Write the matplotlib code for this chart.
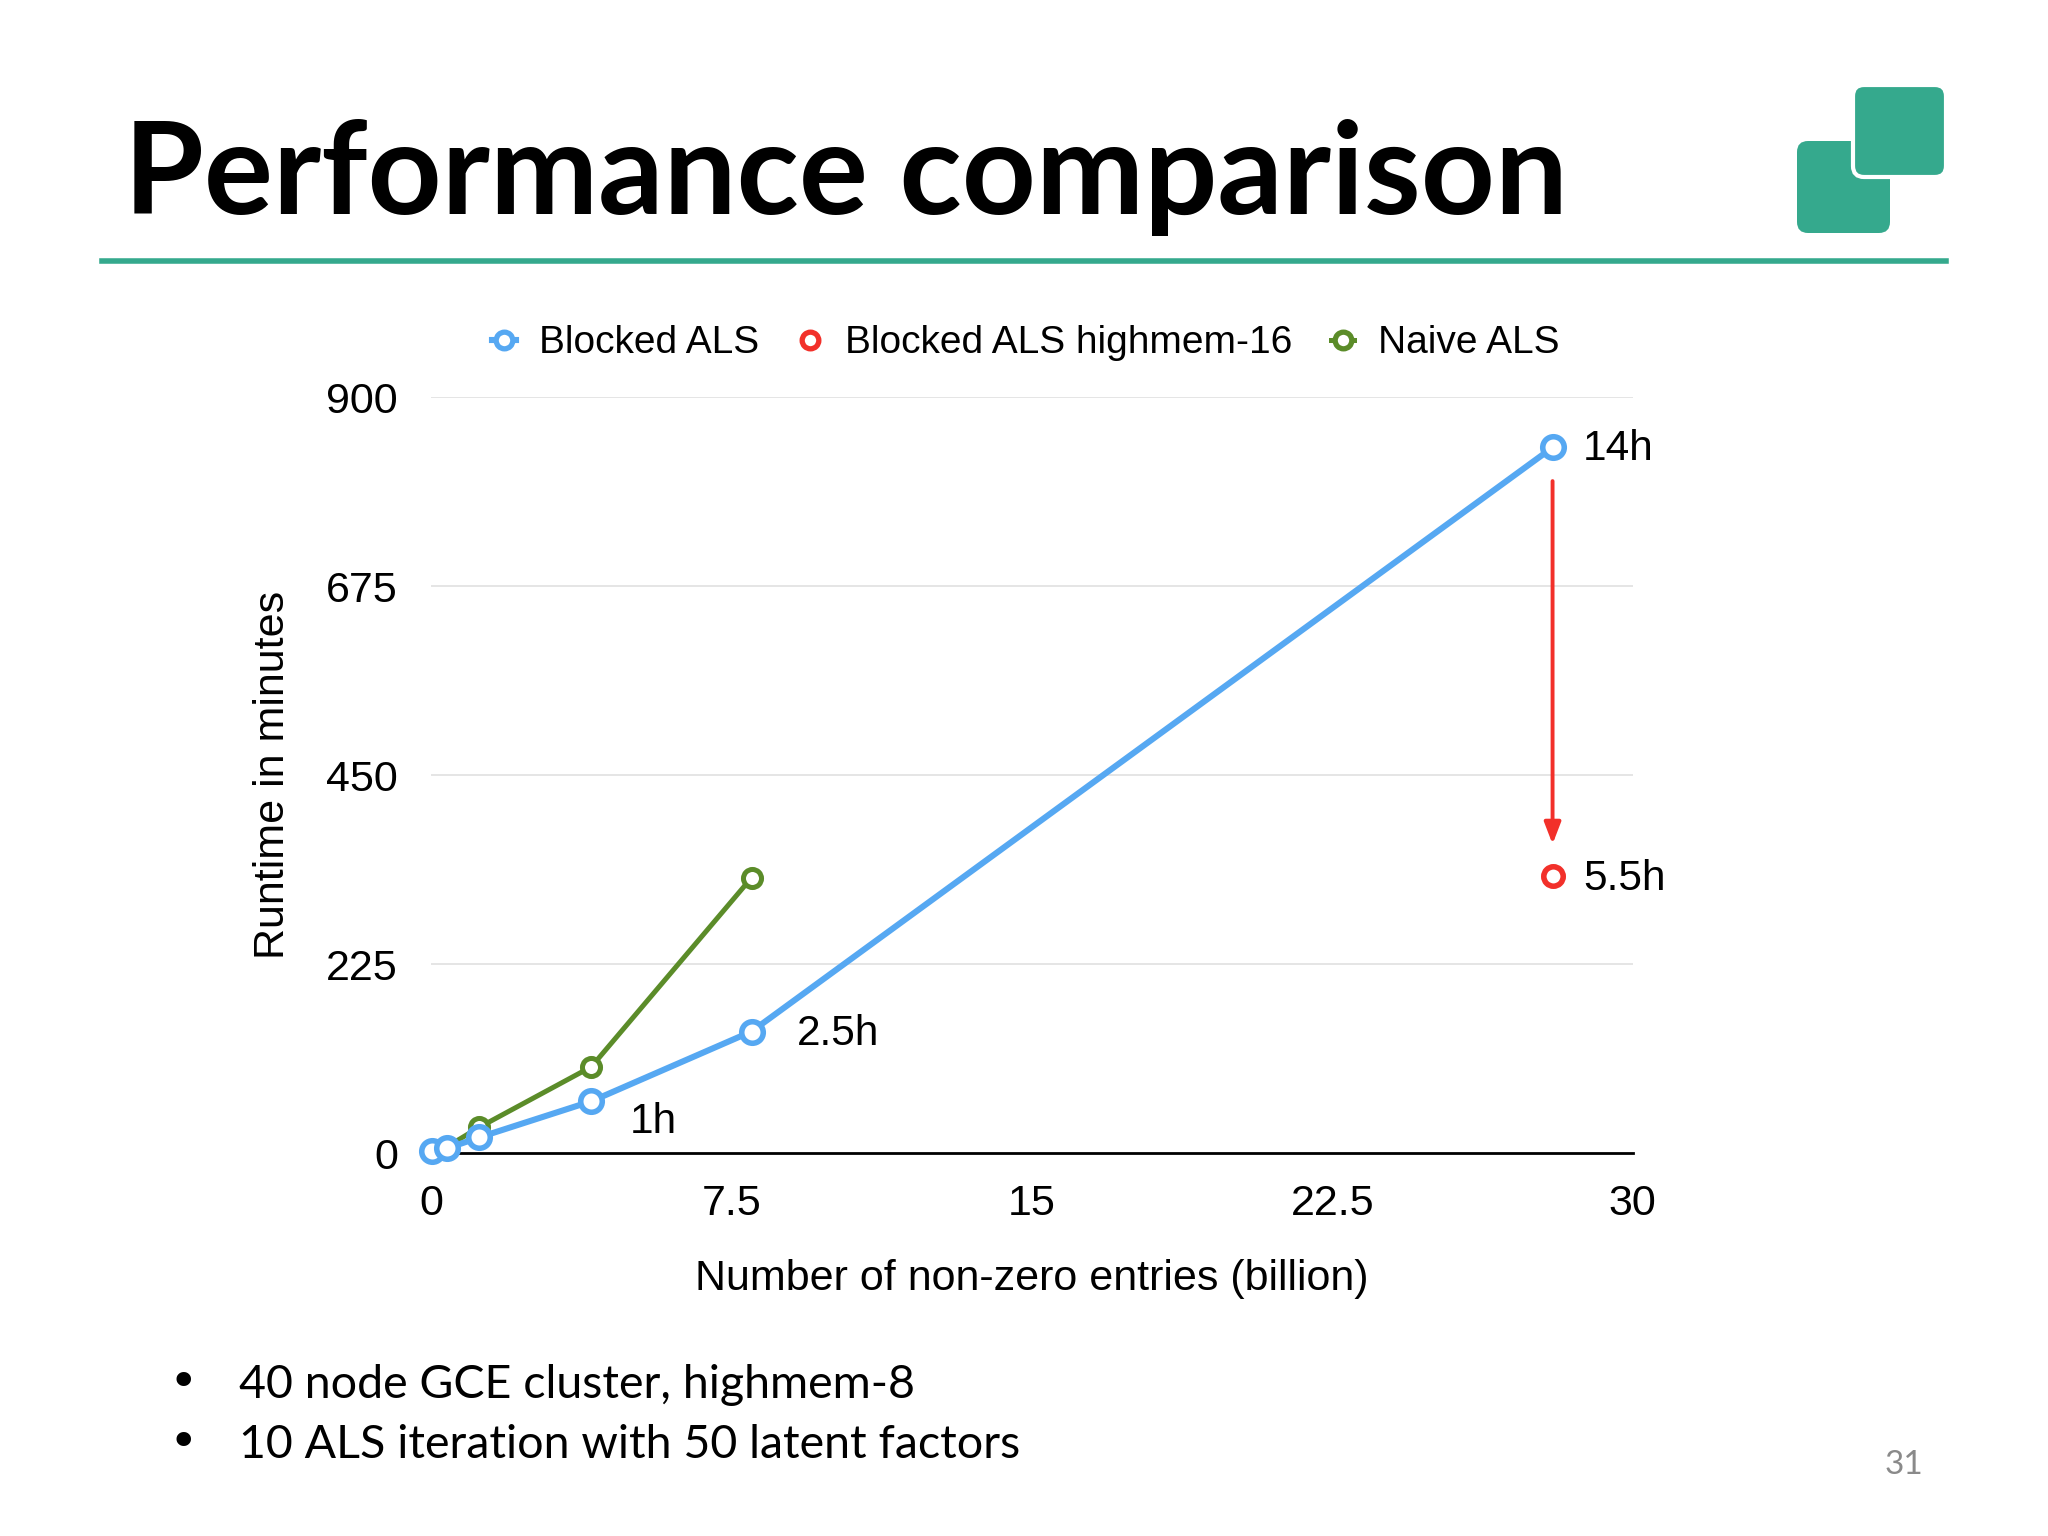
import matplotlib

matplotlib.use("Agg")
import matplotlib.pyplot as plt
from matplotlib.lines import Line2D
from matplotlib.patches import FancyBboxPatch

# Chart values
x_blocked = [0.03, 0.4, 1.2, 4.0, 8.0, 28.0]
y_blocked = [3, 6, 19, 62, 145, 840]
x_naive = [0.4, 1.2, 4.0, 8.0]
y_naive = [8, 31, 103, 328]
x_highmem = [28.0]
y_highmem = [330]
x_ticks = [0, 7.5, 15, 22.5, 30]
y_ticks = [0, 225, 450, 675, 900]
series_names = ["Blocked ALS", "Blocked ALS highmem-16", "Naive ALS"]
point_labels = [("1h", 4.0, 62), ("2.5h", 8.0, 145), ("14h", 28.0, 840), ("5.5h", 28.0, 330)]
label_offsets = [(28, -15), (33, -2), (22, -1), (22, -2)]
bullets = ["40 node GCE cluster, highmem-8", "10 ALS iteration with 50 latent factors"]

BLUE = "#56a8f2"
RED = "#f2302a"
GREEN = "#5b8c29"
TEAL = "#35a98d"
SANS = ["Liberation Sans", "DejaVu Sans"]


def plot() -> None:
    fig = plt.figure(figsize=(20.48, 15.36), dpi=100)
    ax = fig.add_axes([0.2105, 0.2491, 0.5867, 0.4924])

    # grid + bottom axis only
    for y in y_ticks[1:]:
        ax.axhline(y, color="#e3e3e3", lw=1.3, zorder=0)
    for side in ["left", "right", "top"]:
        ax.spines[side].set_visible(False)
    ax.spines["bottom"].set_linewidth(2)

    ax.plot(x_naive, y_naive, "-o", color=GREEN, lw=3.6, ms=13, mew=3.6,
            mfc="white", clip_on=False, zorder=3, label=series_names[2])
    ax.plot(x_blocked, y_blocked, "-o", color=BLUE, lw=4.4, ms=15.5, mew=4,
            mfc="white", clip_on=False, zorder=4, label=series_names[0])
    ax.plot(x_highmem, y_highmem, "o", color=RED, ms=14, mew=4,
            mfc="white", clip_on=False, zorder=4, label=series_names[1])

    ax.annotate("", xy=(28.0, 368), xytext=(28.0, 800),
                arrowprops=dict(arrowstyle="-|>,head_width=0.5,head_length=1.3",
                                color=RED, lw=2.8, shrinkA=0, shrinkB=0))

    for (text, x, y), (dx, dy) in zip(point_labels, label_offsets):
        ax.annotate(text, xy=(x, y), xytext=(dx, dy), textcoords="offset points",
                    ha="left", va="center", fontsize=30.5, family=SANS)

    ax.set_xlim(0, 30)
    ax.set_ylim(0, 900)
    ax.set_xticks(x_ticks, ["0", "7.5", "15", "22.5", "30"])
    ax.set_yticks(y_ticks, [str(v) for v in y_ticks])
    ax.tick_params(axis="both", length=0, labelsize=31)
    ax.tick_params(axis="x", pad=22)
    ax.tick_params(axis="y", pad=24)
    for lab in ax.get_xticklabels() + ax.get_yticklabels():
        lab.set_family(SANS)

    ax.set_xlabel("Number of non-zero entries (billion)", fontsize=31, family=SANS)
    ax.set_ylabel("Runtime in minutes", fontsize=31, family=SANS)
    ax.xaxis.set_label_coords(0.5, -0.14)
    ax.yaxis.set_label_coords(-0.115, 0.5)

    handles, labels = ax.get_legend_handles_labels()
    order = [1, 2, 0]
    leg = ax.legend([handles[i] for i in order], [labels[i] for i in order],
                    loc="center", bbox_to_anchor=(0.495, 1.071), ncol=3, frameon=False,
                    handlelength=0.6, handletextpad=0.6, columnspacing=1.0,
                    prop={"family": SANS, "size": 28})
    for h in leg.legend_handles:
        h.set_markersize(12)
        h.set_markeredgewidth(3.8)

    # slide decorations
    fig.text(0.0606, 0.861, "Performance comparison", fontsize=93, fontweight="bold",
             family=["Lato", "DejaVu Sans"], va="baseline")
    fig.add_artist(Line2D([0.0497, 0.9503], [0.830, 0.830], color=TEAL, lw=4,
                          transform=fig.transFigure))

    logo = fig.add_axes([1790 / 2048, 1 - 240 / 1536, 165 / 2048, 162 / 1536])
    logo.set_xlim(0, 165)
    logo.set_ylim(0, 162)
    logo.axis("off")
    logo.add_patch(FancyBboxPatch((7, 7), 93, 92, boxstyle="round,pad=0,rounding_size=11",
                                  fc=TEAL, ec="none"))
    logo.add_patch(FancyBboxPatch((63, 63), 93, 92, boxstyle="round,pad=0,rounding_size=11",
                                  fc=TEAL, ec="white", lw=3))

    for i, line in enumerate(bullets):
        y = 0.0901 - i * 0.0391
        fig.text(0.0893, y + 0.0095, "•", fontsize=36, family=["DejaVu Sans"],
                 va="center", ha="center")
        fig.text(0.1167, y, line, fontsize=33.5, family=["Lato", "DejaVu Sans"], va="baseline")

    fig.text(0.9298, 0.0461, "31", fontsize=24, color="#8a8a8a", ha="center", va="center",
             family=["Lato", "DejaVu Sans"])

    fig.savefig("out.png", dpi=100)


if __name__ == "__main__":
    plot()
